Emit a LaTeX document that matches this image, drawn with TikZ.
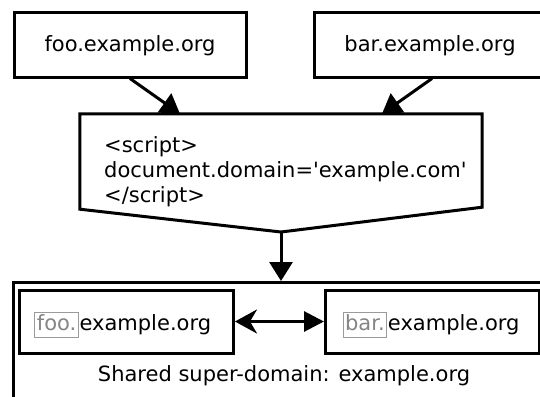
\documentclass[tikz,border=0pt]{standalone}
\usepackage{fontspec}
\setmainfont{DejaVu Sans}[Ligatures=TeXOff]
\usetikzlibrary{arrows.meta,calc}
\definecolor{boxgray}{HTML}{9A9A9A}
\definecolor{txtgray}{HTML}{858585}
\begin{document}
\begin{tikzpicture}[x=1pt,y=-1pt,
  every node/.style={font=\fontsize{21}{25}\selectfont},
  box/.style={draw, line width=3pt, fill=white, inner sep=0pt},
  toptext/.style={text height=16pt, text depth=2pt},
  conn/.style={line width=3pt, -{Triangle[length=19pt,width=23pt]}},
  domprefix/.style={draw=boxgray, line width=1pt, text=txtgray, inner xsep=2pt, inner ysep=2pt, text height=15.3pt, text depth=5.7pt, anchor=base west},
  domrest/.style={anchor=base west, inner sep=0pt},
]
\path[use as bounding box] (0,0) rectangle (540,396);
\clip (0,0) rectangle (540,396);

% top boxes
\node[box, toptext, minimum width=232pt, minimum height=64pt] (foo) at (130,45) {foo.example.org};
\node[box, toptext, minimum width=232pt, minimum height=64pt] (bar) at (430,45) {bar.example.org};

% script box
\node[minimum width=402pt, minimum height=94pt, inner sep=0pt] (mid) at (281,161) {};
\coordinate (midtip) at (281,232);
\draw[line width=3pt, fill=white, line join=miter]
  (mid.north west) -- (mid.north east) -- ($(mid.south east)+(0,-1)$) -- (midtip)
  -- ($(mid.south west)+(0,1)$) -- cycle;
\node[anchor=north west, align=left, inner sep=0pt] (midtext) at (104,136)
  {<script>\\document.domain='example.com'\\</script>};

% shared super-domain box
\node[draw, line width=3pt, minimum width=560pt, minimum height=140pt, anchor=north west, inner sep=0pt] (super) at (12,281) {};
\node[box, minimum width=214pt, minimum height=63pt] (ifoo) at (126.5,321.5) {};
\node[box, minimum width=214pt, minimum height=63pt] (ibar) at (432.5,321.5) {};
\node[domprefix] (foopre) at (34.4,330) {foo.};
\node[domrest] (foorest) at ($(foopre.base east)+(0.6,0)$) {example.org};
\node[domprefix] (barpre) at (342.6,330) {bar.};
\node[domrest] (barrest) at ($(barpre.base east)+(0.6,0)$) {example.org};
\node[anchor=base, inner sep=0pt] (lbl) at (284,381) {Shared super-domain: example.org};

% connectors
\draw[conn] (foo.south) -- ($(mid.north)+(-101,0)$);
\draw[conn] ($(bar.south)+(2,0)$) -- ($(mid.north)+(101,0)$);
\draw[conn] (midtip) -- (midtip |- super.north);
\draw[line width=3pt, {Stealth[length=22pt,width=24pt,inset=7pt]}-{Triangle[length=20pt,width=20pt]}] (ifoo.east) -- (ibar.west);
\end{tikzpicture}
\end{document}
